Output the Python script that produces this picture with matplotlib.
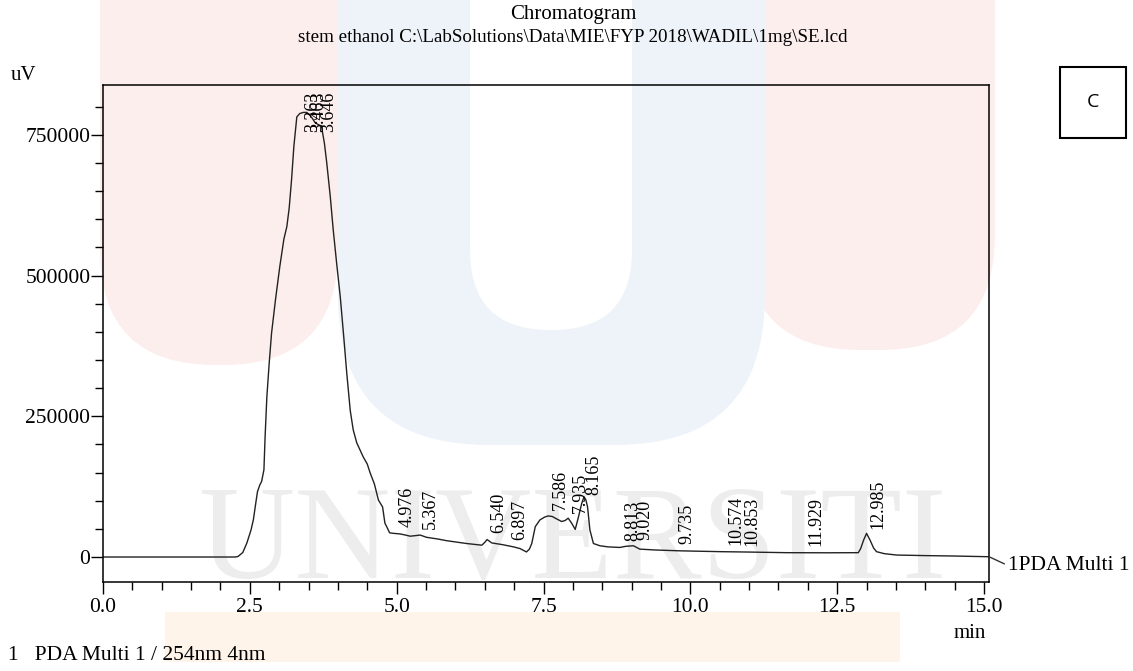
import numpy as np
import matplotlib.pyplot as plt
from matplotlib.patches import FancyBboxPatch, Rectangle
from matplotlib.transforms import IdentityTransform
from matplotlib.ticker import MultipleLocator, FixedLocator, FormatStrFormatter

plt.rcParams['font.family'] = ['Liberation Serif', 'DejaVu Serif']

# PDA Multi 1 trace (254nm), retention time in min, signal in uV
time_min = [0.0, 1.0, 2.25, 2.30, 2.38, 2.45, 2.52, 2.56, 2.60, 2.63, 2.67, 2.70,
            2.74, 2.76, 2.79, 2.83, 2.87, 2.94, 3.01, 3.08, 3.13, 3.17, 3.21, 3.25,
            3.30, 3.35, 3.41, 3.47, 3.52, 3.56, 3.61, 3.67, 3.72, 3.77, 3.81, 3.87,
            3.92, 3.98, 4.04, 4.10, 4.15, 4.21, 4.26, 4.32, 4.43, 4.50, 4.55, 4.62,
            4.69, 4.76, 4.80, 4.83, 4.88, 4.95, 5.06, 5.15, 5.23, 5.32, 5.40, 5.51,
            5.70, 5.85, 6.19, 6.45, 6.50, 6.54, 6.62, 6.80, 6.99, 7.10, 7.21, 7.26,
            7.30, 7.36, 7.44, 7.52, 7.58, 7.65, 7.70, 7.81, 7.87, 7.92, 7.98, 8.04,
            8.09, 8.15, 8.19, 8.22, 8.25, 8.29, 8.35, 8.46, 8.60, 8.80, 8.90, 9.03,
            9.14, 9.40, 9.82, 10.51, 11.00, 11.64, 12.30, 12.86, 12.90, 12.95, 13.00,
            13.06, 13.12, 13.17, 13.30, 13.51, 14.00, 14.47, 15.085]
signal_uv = [0, 0, 0, 1000, 8000, 25000, 48000, 66000, 95000, 116000, 128000, 134000,
             155000, 214000, 285000, 345000, 398000, 460000, 516000, 565000, 587000, 620000, 670000, 730000,
             782000, 788000, 790000, 790000, 785000, 780000, 772000, 768000, 765000, 735000, 700000, 640000,
             581000, 520000, 462000, 390000, 327000, 260000, 226000, 203000, 178000, 165000, 149000, 130000,
             101000, 89000, 60000, 54000, 43000, 42000, 41000, 39000, 37000, 38000, 39000, 35000,
             32000, 29000, 24000, 21000, 26000, 31000, 25000, 22000, 18000, 15000, 9000, 14000,
             24000, 54000, 66000, 71000, 73000, 72000, 69000, 63000, 65000, 69000, 60000, 49000,
             69000, 95000, 107000, 102000, 89000, 48000, 24000, 20000, 18000, 17000, 19000, 20000,
             14000, 12500, 11000, 9500, 8800, 7700, 7500, 7700, 15000, 30000, 42000,
             30000, 16000, 9500, 6000, 3500, 2500, 1800, 500]

peak_times = [3.363, 3.463, 3.646, 4.976, 5.367, 6.540, 6.897, 7.586, 7.935, 8.165,
              8.813, 9.020, 9.735, 10.574, 10.853, 11.929, 12.985]
peak_labels = ['3.363', '3.463', '3.646', '4.976', '5.367', '6.540', '6.897', '7.586', '7.935',
               '8.165', '8.813', '9.020', '9.735', '10.574', '10.853', '11.929', '12.985']

x_major = [0.0, 2.5, 5.0, 7.5, 10.0, 12.5, 15.0]
y_major = [0, 250000, 500000, 750000]

W, H = 1133, 671
fig = plt.figure(figsize=(W / 100, H / 100), dpi=100)


def px_box(x0, y0, x1, y1, color, rad):
    # rounded box given in image pixels (y from the top)
    p = FancyBboxPatch((x0 + rad, H - y1 + rad), x1 - x0 - 2 * rad, y1 - y0 - 2 * rad,
                       boxstyle='round,pad=%g' % rad, transform=IdentityTransform(),
                       facecolor=color, edgecolor='none', zorder=-5)
    fig.patches.append(p)


# faint university logo in the background
px_box(100, -300, 338, 365, '#fdeeee', 115)
px_box(745, -300, 995, 350, '#fdeeee', 115)
px_box(338, -300, 765, 445, '#eef3f9', 150)
px_box(470, -300, 632, 330, 'white', 80)
px_box(165, 612, 900, 662, '#fef4e9', 0.1)
fig.text(572 / W, 1 - 578 / H, 'UNIVERSITI', ha='center', va='baseline',
         fontsize=96, color='#ededed', zorder=-4)

ax = fig.add_axes([103 / W, 1 - 582 / H, (989 - 103) / W, (582 - 85) / H])
ax.patch.set_alpha(0)

ax.plot(time_min, signal_uv, color='#222222', lw=1.0)

ax.set_xlim(0, 15.085)
ax.set_ylim(-44400, 838700)
ymax = ax.get_ylim()[1]

# peak retention times written above the trace
for rt, lab in zip(peak_times, peak_labels):
    yv = np.interp(rt, time_min, signal_uv)
    if yv > 0.8 * ymax:
        ax.annotate(lab, xy=(rt, ymax), xytext=(8.5, -5), textcoords='offset points',
                    rotation=90, ha='center', va='top', fontsize=13)
    else:
        ax.annotate(lab, xy=(rt, yv), xytext=(8.5, 4.5), textcoords='offset points',
                    rotation=90, ha='center', va='bottom', fontsize=13)

ax.xaxis.set_major_locator(FixedLocator(x_major))
ax.xaxis.set_minor_locator(MultipleLocator(0.5))
ax.xaxis.set_major_formatter(FormatStrFormatter('%.1f'))
ax.yaxis.set_major_locator(FixedLocator(y_major))
ax.yaxis.set_minor_locator(MultipleLocator(50000))
ax.yaxis.set_major_formatter(FormatStrFormatter('%d'))

ax.tick_params(which='major', direction='out', length=8.5, width=1.0, labelsize=15.5)
ax.tick_params(axis='x', which='major', pad=3)
ax.tick_params(axis='y', which='major', pad=0.5)
ax.tick_params(which='minor', direction='out', length=6, width=1.0)
for s in ax.spines.values():
    s.set_linewidth(1.1)

# channel tag at the end of the trace
ax.annotate('1PDA Multi 1', xy=(15.085, signal_uv[-1]), xytext=(14, -6.5),
            textcoords='offset points', ha='left', va='center', fontsize=15.5,
            annotation_clip=False,
            arrowprops=dict(arrowstyle='-', color='#333333', lw=1.0,
                            shrinkA=1, shrinkB=0, relpos=(0, 0.5)))

fig.text(573 / W, 1 - 14 / H, 'Chromatogram', ha='center', va='center', fontsize=15)
fig.text(573 / W, 1 - 37 / H,
         'stem ethanol C:\\LabSolutions\\Data\\MIE\\FYP 2018\\WADIL\\1mg\\SE.lcd',
         ha='center', va='center', fontsize=13.7)
fig.text(11 / W, 1 - 76 / H, 'uV', ha='left', va='center', fontsize=15)
fig.text(986 / W, 1 - 634 / H, 'min', ha='right', va='center', fontsize=15)
fig.text(8 / W, 1 - 656 / H, '1   PDA Multi 1 / 254nm 4nm', ha='left', va='center', fontsize=15.5)

# panel letter box
fig.patches.append(Rectangle((1060, H - 138), 66, 71, transform=IdentityTransform(),
                             facecolor='white', edgecolor='black', lw=1.5))
fig.text(1093 / W, 1 - 102 / H, 'C', ha='center', va='center', fontsize=14,
         family=['Open Sans', 'DejaVu Sans'])

fig.savefig('out.png', dpi=100)
